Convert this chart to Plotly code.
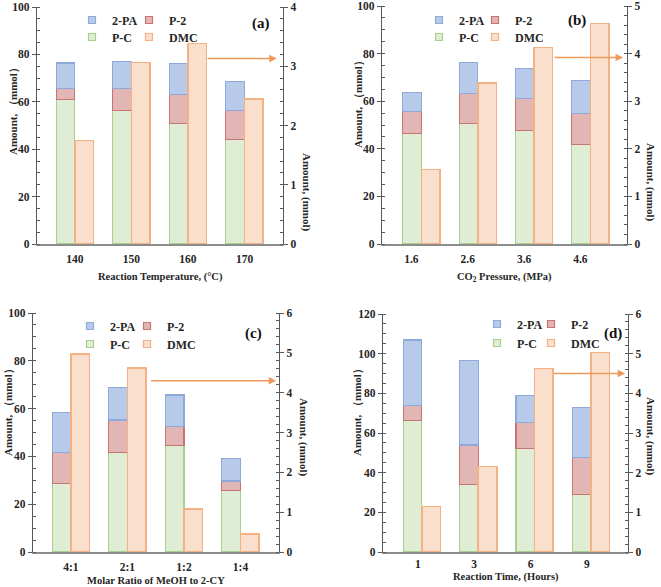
import plotly.graph_objects as go

# ---------------- data ----------------
cats_a = ["140", "150", "160", "170"]
pc_a = [61.0, 56.2, 50.8, 44.2]
p2_a = [4.6, 9.4, 12.3, 12.3]
pa_a = [10.8, 11.3, 12.9, 12.2]
dmc_a = [1.75, 3.06, 3.38, 2.45]

cats_b = ["1.6", "2.6", "3.6", "4.6"]
pc_b = [46.3, 50.8, 47.7, 41.8]
p2_b = [9.4, 12.4, 13.3, 13.2]
pa_b = [7.9, 12.9, 12.8, 13.8]
dmc_b = [1.57, 3.38, 4.13, 4.63]

cats_c = ["4:1", "2:1", "1:2", "1:4"]
pc_c = [28.7, 41.8, 44.5, 25.9]
p2_c = [13.0, 13.4, 8.1, 3.8]
pa_c = [16.6, 13.6, 13.1, 9.5]
dmc_c = [4.97, 4.62, 1.08, 0.45]

cats_d = ["1", "3", "6", "9"]
pc_d = [66.2, 34.2, 52.0, 28.8]
p2_d = [7.5, 19.8, 13.3, 18.7]
pa_d = [33.2, 42.6, 13.7, 25.4]
dmc_d = [1.15, 2.16, 4.63, 5.03]

# ---------------- style ----------------
W, H = 661, 587
FONT = "Liberation Serif, Times New Roman, serif"
TXT = "#262626"
C_PA, L_PA = "#b8cae9", "#8eaadb"
C_P2, L_P2 = "#e2b6b5", "#c87471"
C_PC, L_PC = "#dfedd4", "#a9d18e"
C_DMC, L_DMC = "#fadfcc", "#f4b183"
ARROW = "#ee9a5c"
BW = 0.33


def px_x(p):
    return p / W


def px_y(p):
    return 1 - p / H


panels = [
    dict(cats=cats_a, pc=pc_a, p2=p2_a, pa=pa_a, dmc=dmc_a, x0=37, x1=283, y0=7, y1=244,
         xr=[-0.67, 3.68], ymax=100, yr=4, shift=0, standoff=3,
         xtitle="Reaction Temperature, (°C)", xt_y=277,
         lt=(13, 109), rt=(307, 192), lab="(a)", lab_xy=(261, 23),
         leg_x=(72, 129), leg_y=(20, 37), arrow=(2.32, 3.57, 3.13)),
    dict(cats=cats_b, pc=pc_b, p2=p2_b, pa=pa_b, dmc=dmc_b, x0=382, x1=627, y0=6, y1=244,
         xr=[-0.70, 3.65], ymax=100, yr=5, shift=-10, standoff=3,
         xtitle="CO<sub>2</sub> Pressure, (MPa)", xt_y=277,
         lt=(358, 102), rt=(651, 182), lab="(b)", lab_xy=(577, 20),
         leg_x=(419, 475), leg_y=(20, 37), arrow=(2.34, 3.58, 3.92)),
    dict(cats=cats_c, pc=pc_c, p2=p2_c, pa=pa_c, dmc=dmc_c, x0=33, x1=279, y0=313, y1=552,
         xr=[-0.67, 3.68], ymax=100, yr=6, shift=0, standoff=3,
         xtitle="Molar Ratio of MeOH to 2-CY", xt_y=580,
         lt=(8, 410), rt=(304, 437), lab="(c)", lab_xy=(253, 333),
         leg_x=(70, 127), leg_y=(326, 344), arrow=(1.39, 3.63, 4.30)),
    dict(cats=cats_d, pc=pc_d, p2=p2_d, pa=pa_d, dmc=dmc_d, x0=383, x1=628, y0=314, y1=552,
         xr=[-0.69, 3.66], ymax=120, yr=6, shift=-4, standoff=0,
         xtitle="Reaction Time, (Hours)", xt_y=577,
         lt=(357, 409), rt=(651, 436), lab="(d)", lab_xy=(613, 333),
         leg_x=(477, 531), leg_y=(324, 343), arrow=(2.32, 3.61, 4.50)),
]

fig = go.Figure()
annotations = []
layout = {}

for i, p in enumerate(panels):
    xn = "x" if i == 0 else f"x{i+1}"
    yl = "y" if i == 0 else f"y{2*i+1}"
    yr = f"y{2*i+2}"

    common = dict(x=p["cats"], xaxis=xn, width=BW, showlegend=False)
    fig.add_trace(go.Bar(name="P-C", y=p["pc"], yaxis=yl, offset=-BW,
                         marker=dict(color=C_PC, line=dict(color=L_PC, width=1.2)), **common))
    fig.add_trace(go.Bar(name="P-2", y=p["p2"], yaxis=yl, offset=-BW,
                         marker=dict(color=C_P2, line=dict(color=L_P2, width=1.2)), **common))
    fig.add_trace(go.Bar(name="2-PA", y=p["pa"], yaxis=yl, offset=-BW,
                         marker=dict(color=C_PA, line=dict(color=L_PA, width=1.2)), **common))
    fig.add_trace(go.Bar(name="DMC", y=p["dmc"], yaxis=yr, offset=0,
                         marker=dict(color=C_DMC, line=dict(color=L_DMC, width=1.5)), **common))

    # legend keys: one small legend per entry, 2 x 2 arrangement
    legfont = dict(family=FONT, size=12, color=TXT, weight="bold")
    keys = (("2-PA", C_PA, L_PA, 0, 0), ("P-2", C_P2, L_P2, 1, 0),
            ("P-C", C_PC, L_PC, 0, 1), ("DMC", C_DMC, L_DMC, 1, 1))
    for j, (name, fc, lc, col, row) in enumerate(keys):
        k = 4 * i + j + 1
        lk = "legend" if k == 1 else f"legend{k}"
        fig.add_trace(go.Scatter(x=[None], y=[None], xaxis=xn, yaxis=yl, mode="markers",
                                 name=name, legend=lk, hoverinfo="skip",
                                 marker=dict(symbol="square", size=7, color=fc,
                                             line=dict(color=lc, width=1.2))))
        layout[lk] = dict(x=px_x(p["leg_x"][col]), y=px_y(p["leg_y"][row]),
                          xanchor="left", yanchor="middle", xref="paper", yref="paper",
                          orientation="h", font=legfont, bgcolor="rgba(0,0,0,0)",
                          borderwidth=0, itemclick=False, itemdoubleclick=False)

    xkey = "xaxis" if i == 0 else f"xaxis{i+1}"
    ylkey = "yaxis" if i == 0 else f"yaxis{2*i+1}"
    yrkey = f"yaxis{2*i+2}"

    layout[xkey] = dict(domain=[px_x(p["x0"]), px_x(p["x1"])], anchor=yl, type="category",
                        range=p["xr"], autorange=False, automargin=False,
                        showline=True, linecolor="#8c8c8c", linewidth=1.6,
                        ticks="", showgrid=False, zeroline=False,
                        tickfont=dict(family=FONT, size=11.5, color=TXT, weight="bold"),
                        ticklabelshift=p["shift"], ticklabelstandoff=p["standoff"])
    yax = dict(showline=True, linecolor="#595959", linewidth=1.2, showgrid=False, zeroline=False,
               ticks="outside", ticklen=4, tickwidth=1, tickcolor="#595959", automargin=False,
               autorange=False,
               tickfont=dict(family=FONT, size=11.5, color=TXT, weight="bold"))
    layout[ylkey] = dict(domain=[px_y(p["y1"]), px_y(p["y0"])], anchor=xn,
                         range=[0, p["ymax"]], dtick=20,
                         minor=dict(dtick=5, ticks="inside", ticklen=3, tickcolor="#595959"),
                         **yax)
    layout[yrkey] = dict(overlaying=yl, side="right", anchor=xn,
                         range=[0, p["yr"]], dtick=1,
                         minor=dict(dtick=0.2, ticks="inside", ticklen=3, tickcolor="#595959"),
                         **yax)

    annotations.append(dict(text=p["xtitle"], x=px_x((p["x0"] + p["x1"]) / 2), y=px_y(p["xt_y"]),
                            xref="paper", yref="paper", showarrow=False, xanchor="center",
                            yanchor="middle",
                            font=dict(family=FONT, size=10.5, color=TXT, weight="bold")))
    annotations.append(dict(text="Amount, （mmol）", x=px_x(p["lt"][0]), y=px_y(p["lt"][1]),
                            xref="paper", yref="paper", showarrow=False, textangle=-90,
                            xanchor="center", yanchor="middle",
                            font=dict(family=FONT, size=11, color=TXT, weight="bold")))
    annotations.append(dict(text="Amount, (mmol)", x=px_x(p["rt"][0]), y=px_y(p["rt"][1]),
                            xref="paper", yref="paper", showarrow=False, textangle=90,
                            xanchor="center", yanchor="middle",
                            font=dict(family=FONT, size=11, color=TXT, weight="bold")))
    annotations.append(dict(text=p["lab"], x=px_x(p["lab_xy"][0]), y=px_y(p["lab_xy"][1]),
                            xref="paper", yref="paper", showarrow=False,
                            xanchor="center", yanchor="middle",
                            font=dict(family=FONT, size=15, color="#111", weight="bold")))
    tx, hx, ay = p["arrow"]
    annotations.append(dict(text="", x=hx, y=ay, ax=tx, ay=ay, xref=xn, yref=yr,
                            axref=xn, ayref=yr, showarrow=True, arrowhead=2, arrowsize=1,
                            arrowwidth=1.5, arrowcolor=ARROW, standoff=0, startstandoff=0))

fig.update_layout(width=W, height=H, margin=dict(l=0, r=0, t=0, b=0, pad=0, autoexpand=False),
                  paper_bgcolor="white", plot_bgcolor="white", barmode="stack",
                  annotations=annotations, **layout)

fig.write_html("out.html", config={"displayModeBar": False},
               post_script="document.body.style.margin='0px';document.body.style.overflow='hidden';")
